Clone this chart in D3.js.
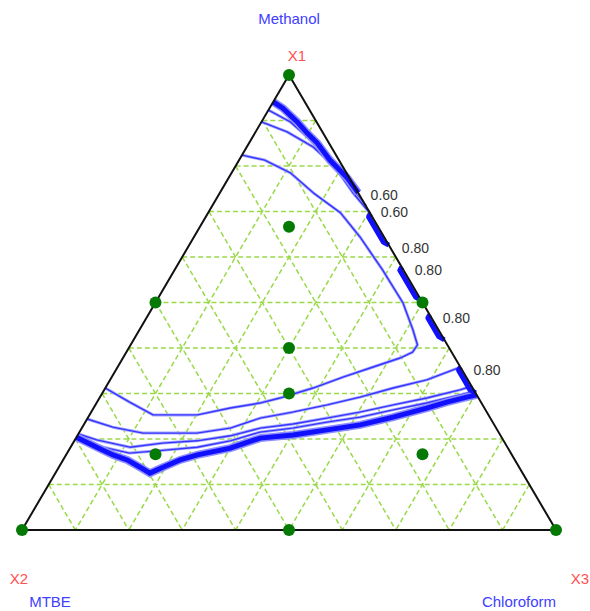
<!DOCTYPE html>
<html><head><meta charset="utf-8">
<script src="https://cdn.jsdelivr.net/npm/d3@7"></script>
<style>body{margin:0;background:#fff}</style></head>
<body>
<svg id="c" width="590" height="611"></svg>
<script>
// ---- data (ternary compositions: [x1, x3], x2 = 1 - x1 - x3) ----
const vertexLabels = ["X1", "X2", "X3"];
const componentNames = ["Methanol", "MTBE", "Chloroform"];
const gridLevels = [0.1, 0.2, 0.3, 0.4, 0.5, 0.6, 0.7, 0.8, 0.9];
// design points [x1, x2, x3]
const designPoints = [
  [1, 0, 0], [0, 1, 0], [0, 0, 1],
  [0.5, 0.5, 0], [0.5, 0, 0.5], [0, 0.5, 0.5],
  [2/3, 1/6, 1/6], [1/6, 2/3, 1/6], [1/6, 1/6, 2/3],
  [0.4, 0.3, 0.3], [0.3, 0.35, 0.35]
];
// contour lines, points as [x1, x3]
const contourInner = [[0.824,0],[0.813,0.048],[0.785,0.110],[0.741,0.175],[0.697,0.248],[0.644,0.311],[0.571,0.390],[0.499,0.464],[0.440,0.512],[0.407,0.537],[0.391,0.536],[0.378,0.519],[0.356,0.474],[0.336,0.433],[0.312,0.389],[0.290,0.338],[0.279,0.306],[0.268,0.256],[0.253,0.202],[0.253,0.119],[0.281,0.061],[0.312,0]];
const contourTopThick = [[0.941,0],[0.927,0.025],[0.897,0.067],[0.873,0.097],[0.851,0.127],[0.813,0.170],[0.774,0.222],[0.741,0.259]];
const contourTop2 = [[0.923,0],[0.897,0.054],[0.864,0.102],[0.820,0.161],[0.754,0.237],[0.712,0.288]];
const contourTop3 = [[0.897,0],[0.875,0.059],[0.842,0.124],[0.798,0.187],[0.743,0.247],[0.695,0.305]];
const contourLow1 = [[0.358,0.642],[0.330,0.593],[0.312,0.539],[0.292,0.487],[0.275,0.434],[0.259,0.377],[0.246,0.323],[0.224,0.278],[0.213,0.221],[0.213,0.120],[0.226,0.057],[0.244,0]];
const contourLow2 = [[0.316,0.684],[0.308,0.666],[0.290,0.613],[0.275,0.558],[0.259,0.503],[0.246,0.448],[0.233,0.391],[0.224,0.334],[0.207,0.287],[0.196,0.230],[0.191,0.168],[0.182,0.111],[0.198,0.041],[0.211,0]];
const contourLow3 = [[0.305,0.695],[0.297,0.672],[0.279,0.618],[0.264,0.563],[0.248,0.509],[0.237,0.452],[0.224,0.395],[0.215,0.338],[0.196,0.292],[0.182,0.237],[0.174,0.166],[0.169,0.117],[0.185,0.048],[0.204,0]];
const contourLowThick = [[0.297,0.703],[0.292,0.687],[0.281,0.655],[0.268,0.624],[0.248,0.571],[0.231,0.518],[0.220,0.461],[0.209,0.403],[0.202,0.345],[0.180,0.300],[0.165,0.246],[0.154,0.219],[0.138,0.195],[0.125,0.177],[0.138,0.152],[0.154,0.120],[0.165,0.088],[0.182,0.049],[0.204,0]];
// short contours running along the X1-X3 edge
const edgeContours = [
  [[0.695,0.305],[0.688,0.305],[0.633,0.360],[0.626,0.374]],
  [[0.578,0.422],[0.571,0.422],[0.512,0.481],[0.505,0.495]],
  [[0.473,0.527],[0.466,0.527],[0.425,0.568],[0.418,0.582]],
  [[0.358,0.642],[0.351,0.642],[0.308,0.685],[0.301,0.699]]
];
const contourLabels = ["0.60", "0.60", "0.80", "0.80", "0.80", "0.80"];
const contourLabelAt = [0.743, 0.705, 0.626, 0.578, 0.473, 0.358]; // x1 on X1-X3 edge

// ---- drawing ----
const svg = d3.select("#c");
const sx = d3.scaleLinear().domain([0, 1]).range([22, 556]);
const sy = d3.scaleLinear().domain([0, 1]).range([530, 75]);
const P = (a, c) => [sx(c + a / 2), sy(a)];
const line = d3.line().x(d => P(d[0], d[1])[0]).y(d => P(d[0], d[1])[1]).curve(d3.curveLinear);

// grid
const g = svg.append("g").attr("stroke", "#9ad94a").attr("stroke-width", 1.5)
  .attr("stroke-dasharray", "5,3").attr("fill", "none");
gridLevels.forEach(k => {
  g.append("path").attr("d", line([[k, 0], [k, 1 - k]]));
  g.append("path").attr("d", line([[1 - k, 0], [0, 1 - k]]));
  g.append("path").attr("d", line([[1 - k, k], [0, k]]));
});

// contours
const cg = svg.append("g").attr("fill", "none").attr("stroke-linejoin", "round");
function thin(d) {
  cg.append("path").attr("d", line(d)).attr("stroke", "#a8a8ff").attr("stroke-width", 3);
  cg.append("path").attr("d", line(d)).attr("stroke", "#3535ff").attr("stroke-width", 1.4);
}
function thick(d) {
  cg.append("path").attr("d", line(d)).attr("stroke", "#8c8cff").attr("stroke-width", 8).attr("stroke-linejoin", "miter");
  cg.append("path").attr("d", line(d)).attr("stroke", "#1010ff").attr("stroke-width", 5).attr("stroke-linejoin", "miter");
}
[contourInner, contourTop2, contourTop3, contourLow1, contourLow2, contourLow3].forEach(thin);
thick(contourTopThick);
thick(contourLowThick);
edgeContours.forEach(d => {
  cg.append("path").attr("d", line(d)).attr("stroke", "#1010ff").attr("stroke-width", 5);
});

// triangle
svg.append("path").attr("d", line([[1, 0], [0, 0], [0, 1], [1, 0]]) + "Z")
  .attr("fill", "none").attr("stroke", "#111").attr("stroke-width", 2);

// design points
svg.append("g").selectAll("circle").data(designPoints).join("circle")
  .attr("cx", d => P(d[0], d[2])[0]).attr("cy", d => P(d[0], d[2])[1])
  .attr("r", 6).attr("fill", "#047a04");

// contour labels
svg.append("g").selectAll("text").data(contourLabels).join("text")
  .attr("x", (d, i) => P(contourLabelAt[i], 1 - contourLabelAt[i])[0] + 13)
  .attr("y", (d, i) => P(contourLabelAt[i], 1 - contourLabelAt[i])[1] + 8)
  .attr("font-family", "Liberation Sans, Arial, sans-serif").attr("font-size", 14)
  .attr("fill", "#333").text(d => d);

// vertex labels
const font = "Liberation Sans, Arial, sans-serif";
const vpos = [[297, 61], [19, 584], [580, 584]];
const npos = [[289, 24], [50, 607], [519, 607]];
vertexLabels.forEach((t, i) => {
  svg.append("text").attr("x", vpos[i][0]).attr("y", vpos[i][1]).attr("text-anchor", "middle")
    .attr("font-family", font).attr("font-size", 15).attr("fill", "#ff5050").text(t);
  svg.append("text").attr("x", npos[i][0]).attr("y", npos[i][1]).attr("text-anchor", "middle")
    .attr("font-family", font).attr("font-size", 15).attr("fill", "#4040ff").text(componentNames[i]);
});
</script>
</body></html>
